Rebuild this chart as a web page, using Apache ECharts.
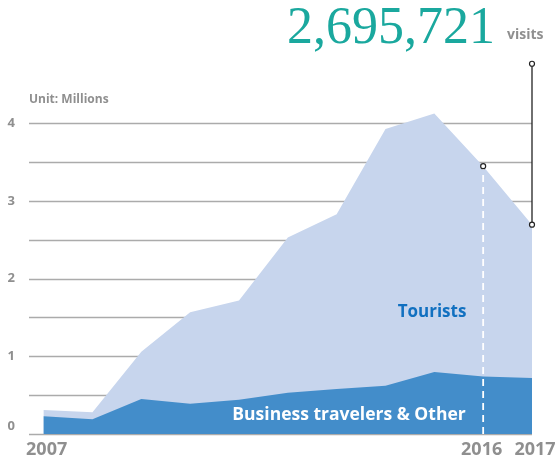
<!DOCTYPE html>
<html>
<head>
<meta charset="utf-8">
<script src="https://cdn.jsdelivr.net/npm/echarts@6/dist/echarts.min.js"></script>
<style>
html,body{margin:0;padding:0;background:#fff;}
#c{width:559px;height:463px;}
</style>
</head>
<body>
<div id="c"></div>
<script>
const years = [2007, 2008, 2009, 2010, 2011, 2012, 2013, 2014, 2015, 2016, 2017];
const business = [0.23, 0.19, 0.45, 0.39, 0.44, 0.53, 0.58, 0.62, 0.80, 0.74, 0.72];
const totalVisits = [0.31, 0.28, 1.06, 1.57, 1.72, 2.53, 2.83, 3.93, 4.13, 3.45, 2.696];
const xTickLabels = [2007, 2016, 2017];
const yTickLabels = [0, 1, 2, 3, 4];
const headline = '2,695,721';
const calloutTop = 4.77;

const businessData = years.map((y, i) => [y, business[i]]);
const totalData = years.map((y, i) => [y, totalVisits[i]]);
const i2016 = years.indexOf(2016), i2017 = years.indexOf(2017);

const FONT = 'Open Sans';
const GRAY = '#8f8f8f';

const chart = echarts.init(document.getElementById('c'), null, {renderer: 'canvas'});
chart.setOption({
  animation: false,
  grid: {left: 29, right: 27, top: 123.5, bottom: 29, containLabel: false},
  xAxis: {
    type: 'value', min: 2006.7, max: 2017,
    axisLine: {show: false}, axisTick: {show: false}, splitLine: {show: false},
    axisLabel: {
      customValues: xTickLabels, margin: 7,
      fontFamily: FONT, fontWeight: 'bold', fontSize: 18, color: GRAY,
      formatter: v => (v === 2007 ? '{a|2007}' : v === 2017 ? '{b|2017}' : '{c|' + v + '}'),
      rich: {
        a: {fontFamily: FONT, fontWeight: 'bold', fontSize: 18, color: GRAY, padding: [0, 0, 0, 6]},
        b: {fontFamily: FONT, fontWeight: 'bold', fontSize: 18, color: GRAY, padding: [0, 0, 0, 6]},
        c: {fontFamily: FONT, fontWeight: 'bold', fontSize: 18, color: GRAY, padding: [0, 3, 0, 0]}
      }
    }
  },
  yAxis: {
    type: 'value', min: 0, max: 4, interval: 0.5,
    axisLine: {show: false}, axisTick: {show: false},
    splitLine: {show: true, lineStyle: {color: '#ababab', width: 1.3}},
    axisLabel: {
      margin: 14, fontFamily: FONT, fontWeight: 'bold', fontSize: 13, color: GRAY,
      formatter: v => (yTickLabels.indexOf(v) >= 0 ? (v === 0 ? '{z|0}' : String(v)) : ''),
      rich: {z: {fontFamily: FONT, fontWeight: 'bold', fontSize: 13, color: GRAY, padding: [0, 0, 16, 0]}}
    }
  },
  series: [
    {
      name: 'Tourists', type: 'line', data: totalData,
      symbol: 'none', lineStyle: {width: 0}, clip: false, z: 2,
      areaStyle: {color: '#c7d5ed', opacity: 1}
    },
    {
      name: 'Business travelers & Other', type: 'line', data: businessData,
      symbol: 'none', lineStyle: {width: 0}, clip: false, z: 3,
      areaStyle: {color: '#438dca', opacity: 1}
    },
    {
      name: 'dash2016', type: 'line', data: [[2016, 0], [2016, totalVisits[i2016]]],
      symbol: 'none', clip: false, z: 4, silent: true,
      lineStyle: {color: '#ffffff', width: 1.8, type: [7, 5]}
    },
    {
      name: 'callout', type: 'line', data: [[2017, totalVisits[i2017]], [2017, calloutTop]],
      symbol: 'none', clip: false, z: 4, silent: true,
      lineStyle: {color: '#222222', width: 1.3}
    },
    {
      name: 'dots', type: 'scatter', clip: false, z: 5, silent: true,
      data: [[2016, totalVisits[i2016]], [2017, totalVisits[i2017]], [2017, calloutTop]],
      symbol: 'circle', symbolSize: 5,
      itemStyle: {color: '#ffffff', borderColor: '#222222', borderWidth: 1.2, opacity: 1}
    }
  ],
  graphic: [
    {type: 'text', left: 287, top: 3, style: {text: headline, fontFamily: 'Liberation Serif', fontSize: 52, fill: '#1aa89e'}},
    {type: 'text', left: 507, top: 28, style: {text: 'visits', fontFamily: FONT, fontWeight: 'bold', fontSize: 14, fill: GRAY}},
    {type: 'text', left: 29, top: 94, style: {text: 'Unit: Millions', fontFamily: FONT, fontWeight: 'bold', fontSize: 12, fill: GRAY}},
    {type: 'text', x: 432, y: 312, z: 10, style: {text: 'Tourists', fontFamily: FONT, fontWeight: 'bold', fontSize: 17, fill: '#1170c0', align: 'center', verticalAlign: 'middle'}},
    {type: 'text', x: 349, y: 415, z: 10, style: {text: 'Business travelers & Other', fontFamily: FONT, fontWeight: 'bold', fontSize: 17.5, fill: '#ffffff', align: 'center', verticalAlign: 'middle'}}
  ]
});
</script>
</body>
</html>
